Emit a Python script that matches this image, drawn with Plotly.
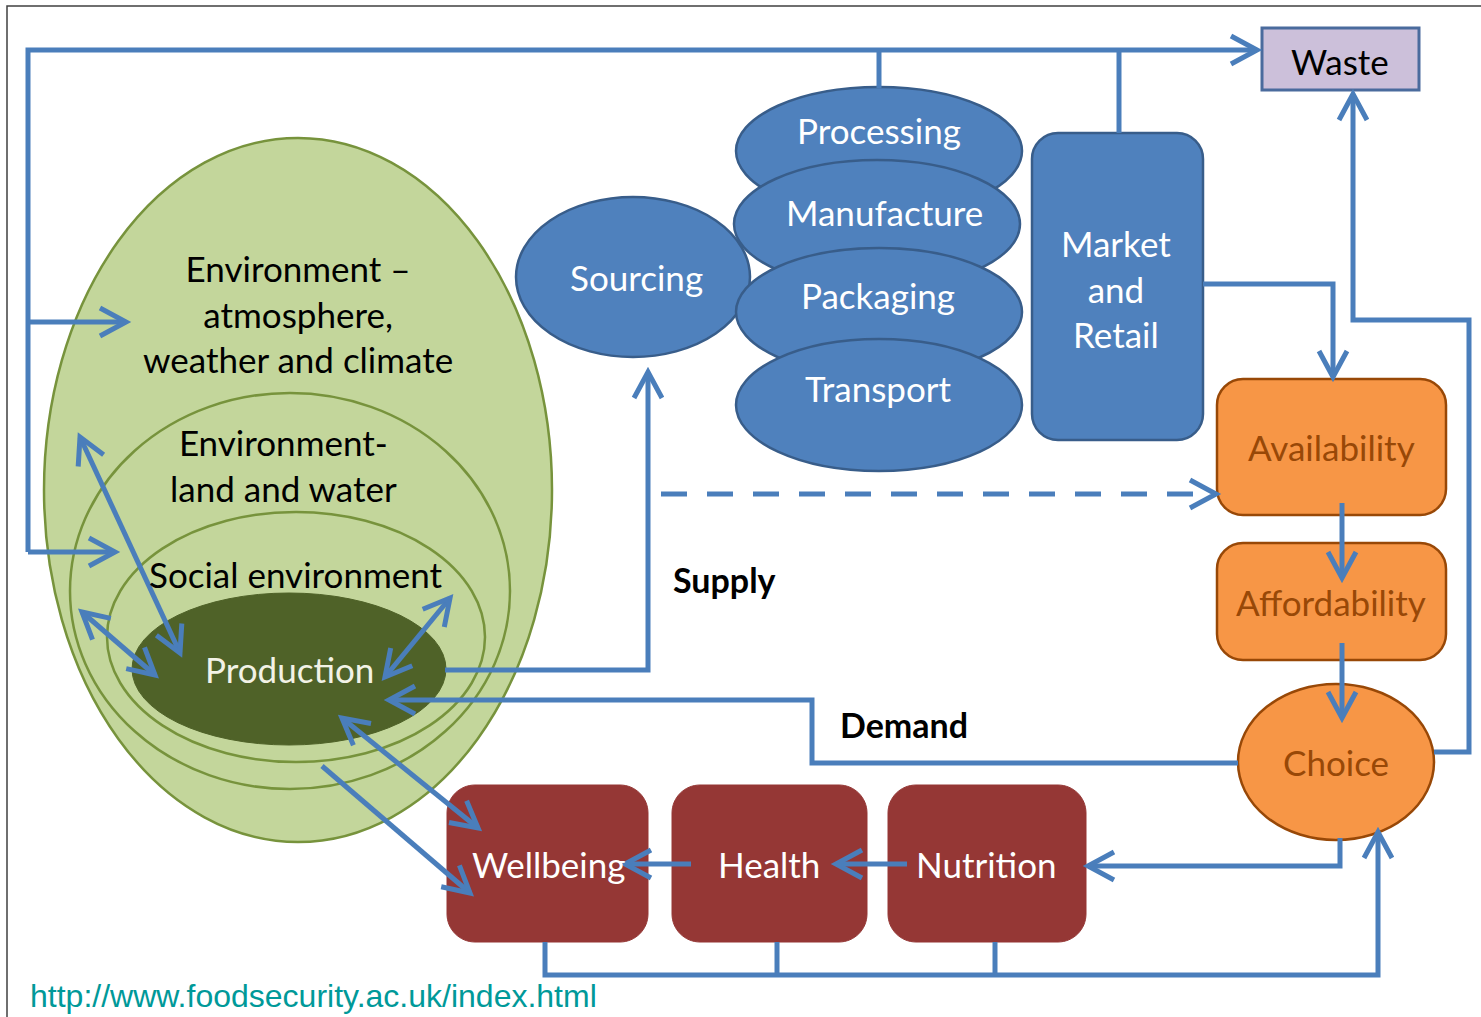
import math
import plotly.graph_objects as go

# ---------------- data (labels) ----------------
ENV_LABELS = ["Environment –<br>atmosphere,<br>weather and climate",
              "Environment-<br>land and water",
              "Social environment"]
PRODUCTION_LABEL = "Production"
SOURCING_LABEL = "Sourcing"
CHAIN_LABELS = ["Processing", "Manufacture", "Packaging", "Transport"]
MARKET_LABEL = "Market<br>and<br>Retail"
WASTE_LABEL = "Waste"
ACCESS_LABELS = ["Availability", "Affordability", "Choice"]
OUTCOME_LABELS = ["Wellbeing", "Health", "Nutrition"]
FLOW_LABELS = ["Supply", "Demand"]
SOURCE_URL = "http://www.foodsecurity.ac.uk/index.html"

# ---------------- layout geometry (pixel space of the diagram) ----------------
W, H = 1481, 1017
ENV_ELLIPSES = [(298, 490, 254, 352), (290, 591, 220, 198), (296, 637, 189, 125)]
ENV_TEXT_POS = [(298, 313), (283, 465), (296, 574)]
PROD_ELLIPSE = (289, 669, 157, 76)
SOURCING_ELLIPSE = (633, 277, 117, 80)
SOURCING_TEXT = (636, 277)
CHAIN_ELLIPSES = [(879, 151, 143, 64), (877, 224, 143, 64), (879, 312, 143, 64), (879, 405, 143, 66)]
CHAIN_TEXT = [(879, 130), (884, 212), (878, 295), (878, 388)]
MARKET_BOX = (1032, 133, 1203, 440, 26)
WASTE_BOX = (1262, 28, 1419, 90)
ACCESS_BOXES = [(1217, 379, 1446, 515, 26), (1217, 543, 1446, 660, 26)]
CHOICE_ELLIPSE = (1336, 762, 98, 78)
ACCESS_TEXT = [(1331, 447), (1331, 602), (1336, 762)]
OUTCOME_BOXES = [(447, 785, 648, 942, 28), (672, 785, 867, 942, 28), (888, 785, 1086, 942, 28)]
OUTCOME_TEXT = [(548, 864), (769, 864), (986, 864)]
FLOW_TEXT = [(724, 579), (904, 724)]

BLUE = "#4a7ebb"
ARROW_W = 5
FS = 35

fig = go.Figure()
shapes = []
annotations = []


def ellipse(cx, cy, rx, ry, fill, line, lw):
    shapes.append(dict(type="circle", xref="x", yref="y", x0=cx - rx, x1=cx + rx,
                       y0=cy - ry, y1=cy + ry, fillcolor=fill,
                       line=dict(color=line, width=lw), layer="above"))


def rrect(x0, y0, x1, y1, r, fill, line, lw):
    k = 0.552 * r
    p = (f"M{x0 + r},{y0} L{x1 - r},{y0} C{x1 - r + k},{y0} {x1},{y0 + r - k} {x1},{y0 + r} "
         f"L{x1},{y1 - r} C{x1},{y1 - r + k} {x1 - r + k},{y1} {x1 - r},{y1} "
         f"L{x0 + r},{y1} C{x0 + r - k},{y1} {x0},{y1 - r + k} {x0},{y1 - r} "
         f"L{x0},{y0 + r} C{x0},{y0 + r - k} {x0 + r - k},{y0} {x0 + r},{y0} Z")
    shapes.append(dict(type="path", xref="x", yref="y", path=p, fillcolor=fill,
                       line=dict(color=line, width=lw), layer="above"))


def chevron(tip, frm, L=26, Wd=14):
    dx, dy = tip[0] - frm[0], tip[1] - frm[1]
    n = math.hypot(dx, dy)
    ux, uy = dx / n, dy / n
    px, py = -uy, ux
    a1 = (tip[0] - L * ux + Wd * px, tip[1] - L * uy + Wd * py)
    a2 = (tip[0] - L * ux - Wd * px, tip[1] - L * uy - Wd * py)
    p = f"M{a1[0]:.1f},{a1[1]:.1f} L{tip[0]},{tip[1]} L{a2[0]:.1f},{a2[1]:.1f}"
    shapes.append(dict(type="path", xref="x", yref="y", path=p,
                       line=dict(color=BLUE, width=ARROW_W), layer="above"))


def arrow(pts, head=True, tail=False, dash="solid"):
    p = "M" + " L".join(f"{x},{y}" for x, y in pts)
    shapes.append(dict(type="path", xref="x", yref="y", path=p,
                       line=dict(color=BLUE, width=ARROW_W, dash=dash), layer="above"))
    if head:
        chevron(pts[-1], pts[-2])
    if tail:
        chevron(pts[0], pts[1])


def label(text, x, y, size=FS, color="#000000", bold=False, family="Lato"):
    t = f"<b>{text}</b>" if bold else text
    annotations.append(dict(x=x, y=y, xref="x", yref="y", text=t, showarrow=False,
                            font=dict(family=family, size=size, color=color),
                            xanchor="center", yanchor="middle", align="center"))


# frame
shapes.append(dict(type="path", xref="x", yref="y", path=f"M7,{H} L7,6 L{W},6",
                   line=dict(color="#404040", width=1.5)))

# environment ellipses
for (cx, cy, rx, ry) in ENV_ELLIPSES:
    ellipse(cx, cy, rx, ry, "#c3d69b", "#77933c", 2.5)
ellipse(*PROD_ELLIPSE, "#4f6228", "#4f6228", 1)

# supply chain
ellipse(*SOURCING_ELLIPSE, "#4f81bd", "#385d8a", 2.5)
for e in CHAIN_ELLIPSES:
    ellipse(*e, "#4f81bd", "#385d8a", 2.5)
rrect(*MARKET_BOX, "#4f81bd", "#385d8a", 2.5)

# waste
shapes.append(dict(type="rect", xref="x", yref="y", x0=WASTE_BOX[0], y0=WASTE_BOX[1],
                   x1=WASTE_BOX[2], y1=WASTE_BOX[3], fillcolor="#ccc0da",
                   line=dict(color="#4a6b9d", width=3)))

# access
for b in ACCESS_BOXES:
    rrect(*b, "#f79646", "#984807", 2.5)
ellipse(*CHOICE_ELLIPSE, "#f79646", "#984807", 2.5)

# outcomes
for b in OUTCOME_BOXES:
    rrect(*b, "#953735", "#953735", 1)

# connectors
arrow([(28, 552), (28, 50), (1257, 50)])
arrow([(28, 322), (126, 322)])
arrow([(28, 552), (115, 552)])
arrow([(879, 50), (879, 88)], head=False)
arrow([(1119, 50), (1119, 133)], head=False)
arrow([(1203, 284), (1333, 284), (1333, 377)])
arrow([(1434, 752), (1469, 752), (1469, 320), (1353, 320), (1353, 94)])
arrow([(661, 494), (1216, 494)], head=False, dash="26px,20px")
chevron((1216, 494), (1100, 494))
arrow([(1342, 503), (1342, 578)])
arrow([(1342, 643), (1342, 718)])
arrow([(1340, 838), (1340, 866), (1088, 866)])
arrow([(907, 864), (836, 864)])
arrow([(691, 864), (625, 864)])
arrow([(545, 942), (545, 975), (1378, 975), (1378, 832)])
arrow([(777, 942), (777, 975)], head=False)
arrow([(995, 942), (995, 975)], head=False)
arrow([(1238, 763), (812, 763), (812, 700), (389, 700)])
arrow([(445, 670), (648, 670), (648, 372)])
arrow([(80, 437), (180, 653)], tail=True)
arrow([(82, 612), (155, 675)], tail=True)
arrow([(450, 598), (385, 677)], tail=True)
arrow([(342, 718), (478, 828)], tail=True)
arrow([(322, 766), (470, 893)])

# labels
for t, (x, y) in zip(ENV_LABELS, ENV_TEXT_POS):
    label(t, x, y, color="#000000")
label(PRODUCTION_LABEL, *PROD_ELLIPSE[:2], color="#f2f2e6")
label(SOURCING_LABEL, *SOURCING_TEXT, color="#ffffff")
for t, (x, y) in zip(CHAIN_LABELS, CHAIN_TEXT):
    label(t, x, y, color="#ffffff")
label(MARKET_LABEL, 1116, 288, color="#ffffff")
label(WASTE_LABEL, 1340, 61, color="#000000")
for t, (x, y) in zip(ACCESS_LABELS, ACCESS_TEXT):
    label(t, x, y, color="#984807")
for t, (x, y) in zip(OUTCOME_LABELS, OUTCOME_TEXT):
    label(t, x, y, color="#ffffff")
for t, (x, y) in zip(FLOW_LABELS, FLOW_TEXT):
    label(t, x, y, bold=True, size=34)
annotations.append(dict(x=28, y=996, xref="x", yref="y", text=SOURCE_URL, showarrow=False,
                        font=dict(family="Liberation Sans", size=32, color="#009999"),
                        xanchor="left", yanchor="middle"))

fig.update_layout(
    width=W, height=H, margin=dict(l=0, r=0, t=0, b=0),
    paper_bgcolor="white", plot_bgcolor="white",
    xaxis=dict(range=[0, W], visible=False, fixedrange=True),
    yaxis=dict(range=[H, 0], visible=False, fixedrange=True),
    shapes=shapes, annotations=annotations, showlegend=False,
)
fig.write_html("out.html", config={"displayModeBar": False},
               post_script="document.body.style.margin='0px';document.body.style.overflow='hidden';")
